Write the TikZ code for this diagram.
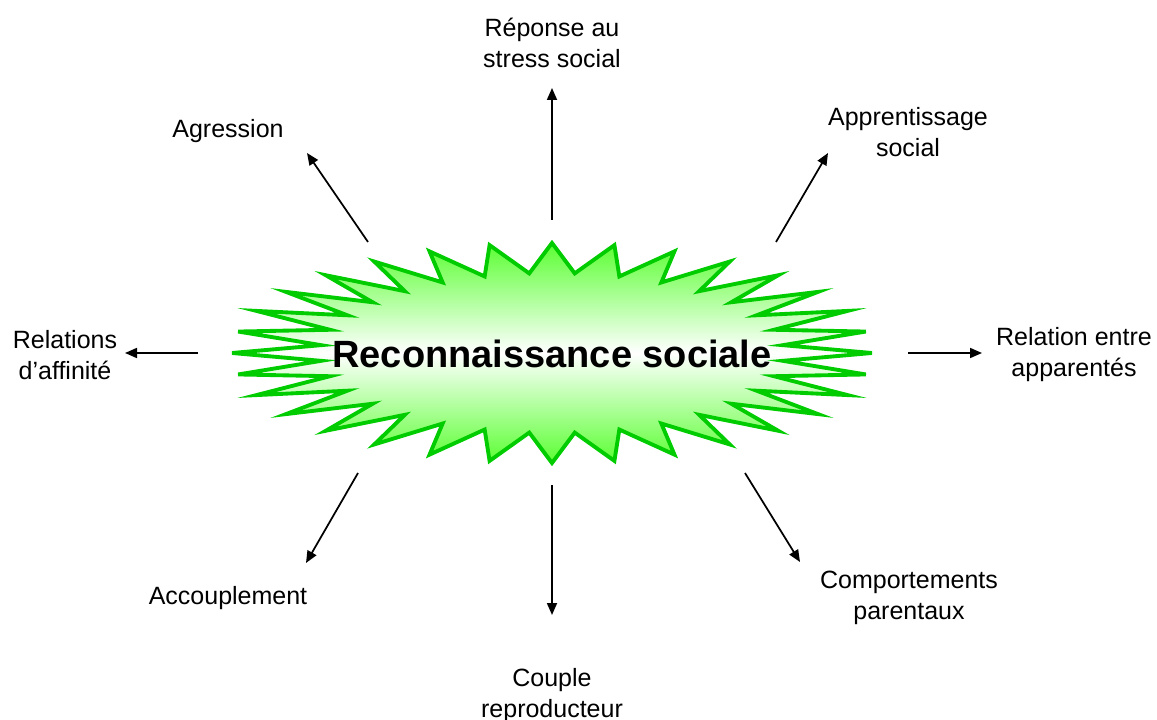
\documentclass[tikz,border=0pt]{standalone}
\usepackage{fontspec}
\setmainfont{Liberation Sans}
\usepackage{tikz}
\usetikzlibrary{arrows.meta}
\definecolor{vertbord}{RGB}{0,204,0}
\definecolor{vertfond}{RGB}{90,255,50}

\begin{document}
\begin{tikzpicture}[x=0.75pt,y=-0.75pt,
  lab/.style={align=center,font=\fontsize{18.75}{23.25}\selectfont,inner sep=0pt},
  arr/.style={line width=1.3pt,-{Triangle[length=9pt,width=7.5pt]}}]
\useasboundingbox (0,0) rectangle (1157,720);
% Etoile centrale
\path[draw=vertbord, line width=2.9pt, line join=miter,
  top color=vertfond, bottom color=vertfond, middle color=white]
  plot[samples at={0,...,63}, variable=\k]
  ({552+ifthenelse(mod(\k,2)==0,320,232)*cos(\k*5.625)},
   {353+ifthenelse(mod(\k,2)==0,110,80)*sin(\k*5.625)}) -- cycle;
\node (titre) at (552,354) {\fontsize{28.5}{34}\selectfont\bfseries Reconnaissance sociale};
% Etiquettes
\node[lab] (stress) at (552,43) {R\'eponse au\\stress social};
\node[lab] (agres) at (228,131) {Agression};
\node[lab] (appren) at (908,132) {Apprentissage\\social};
\node[lab] (affin) at (65,355) {Relations\\d'affinit\'e};
\node[lab] (appar) at (1074,355) {Relation entre\\apparent\'es};
\node[lab] (accoupl) at (228,598) {Accouplement};
\node[lab] (couple) at (552,696) {Couple\\reproducteur};
\node[lab] (parent) at (909,598) {Comportements\\parentaux};
% Points de depart et d'arrivee des fleches
\coordinate (d1) at (552,220); \coordinate (f1) at (552,88);
\coordinate (d2) at (368,242); \coordinate (f2) at (307,153);
\coordinate (d3) at (776,242); \coordinate (f3) at (828,153);
\coordinate (d4) at (198,353); \coordinate (f4) at (125,353);
\coordinate (d5) at (908,353); \coordinate (f5) at (982,353);
\coordinate (d6) at (358,473); \coordinate (f6) at (306,563);
\coordinate (d7) at (552,485); \coordinate (f7) at (552,615);
\coordinate (d8) at (745,473); \coordinate (f8) at (800,562);
% Fleches
\foreach \i in {1,...,8}
  \draw[arr] (d\i) -- (f\i);
\end{tikzpicture}
\end{document}
